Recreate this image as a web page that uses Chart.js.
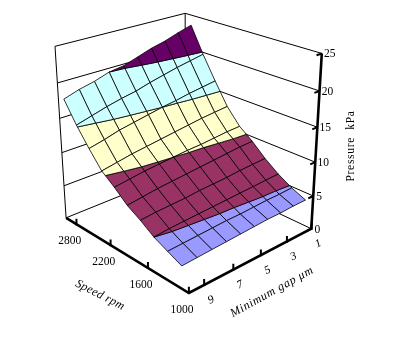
<!DOCTYPE html>
<html>
<head>
<meta charset="utf-8">
<style>
    html, body { margin: 0; padding: 0; background: #fff; }
    canvas { display: block; }
</style>
<script src="https://cdn.jsdelivr.net/npm/chart.js@4/dist/chart.umd.js"></script>
</head>
<body>
<canvas id="chart" width="399" height="354"></canvas>
<script>
// Values
const speeds = [1000, 1200, 1400, 1600, 1800, 2000, 2200, 2400, 2600, 2800];
const gaps = [1, 2, 3, 4, 5, 6, 7, 8, 9, 10];
const speedLabels = ['1000', '1600', '2200', '2800'];
const gapLabels = ['1', '3', '5', '7', '9'];
const pressureTicks = [0, 5, 10, 15, 20, 25];

// one row per speed, gap 1 to gap 10
const p1000 = [3.9, 3.9, 3.8, 3.8, 3.7, 3.6, 3.5, 3.4, 3.3, 3.2];
const p1200 = [4.8, 4.7, 4.7, 4.6, 4.5, 4.5, 4.4, 4.3, 4.2, 4.1];
const p1400 = [6.0, 5.9, 5.8, 5.7, 5.6, 5.5, 5.4, 5.3, 5.2, 5.0];
const p1600 = [7.5, 7.4, 7.3, 7.1, 7.0, 6.9, 6.7, 6.6, 6.5, 6.3];
const p1800 = [9.3, 9.2, 9.0, 8.8, 8.6, 8.4, 8.2, 8.0, 7.7, 7.4];
const p2000 = [10.8, 10.7, 10.5, 10.3, 10.2, 10.0, 9.8, 9.6, 9.3, 9.0];
const p2200 = [13.1, 12.9, 12.7, 12.4, 12.1, 11.8, 11.5, 11.2, 10.8, 10.4];
const p2400 = [16.3, 16.0, 15.7, 15.3, 15.0, 14.6, 14.2, 13.8, 13.2, 12.7];
const p2600 = [19.7, 19.3, 18.9, 18.4, 17.9, 17.3, 16.9, 16.4, 15.8, 15.2];
const p2800 = [23.5, 22.9, 22.2, 21.7, 21.0, 20.3, 20.0, 19.3, 18.8, 18.1];
const pressure = [p1000, p1200, p1400, p1600, p1800, p2000, p2200, p2400, p2600, p2800];

const BAND_COLORS = ['#9999FF', '#993366', '#FFFFCC', '#CCFFFF', '#660066'];

// Box corners on the page: [speed axis 0..1, gap axis 0..1, pressure 0..1, px, py]
const BOX = [
    [0, 1, 0, 189, 292],
    [1, 1, 0, 66, 219],
    [0, 0, 0, 311, 230],
    [1, 0, 0, 186, 168],
    [1, 1, 1, 55, 46],
    [0, 0, 1, 322, 53],
    [1, 0, 1, 185, 14],
];

const camera = fitCamera(BOX);

// least squares fit of the perspective matrix through the box corners
function fitCamera(pts) {
    const rows = [];
    pts.forEach(([X, Y, Z, x, y]) => {
        rows.push([X, Y, Z, 1, 0, 0, 0, 0, -x * X, -x * Y, -x * Z, x]);
        rows.push([0, 0, 0, 0, X, Y, Z, 1, -y * X, -y * Y, -y * Z, y]);
    });
    const n = 11;
    const m = [];
    for (let i = 0; i < n; i++) {
        m.push([]);
        for (let j = 0; j <= n; j++) {
            m[i].push(rows.reduce((s, r) => s + r[i] * r[j], 0));
        }
    }
    for (let c = 0; c < n; c++) {
        let best = c;
        for (let r = c + 1; r < n; r++) if (Math.abs(m[r][c]) > Math.abs(m[best][c])) best = r;
        [m[c], m[best]] = [m[best], m[c]];
        for (let r = 0; r < n; r++) {
            if (r === c) continue;
            const f = m[r][c] / m[c][c];
            for (let j = c; j <= n; j++) m[r][j] -= f * m[c][j];
        }
    }
    return m.map((row, i) => row[n] / row[i]);
}

function project(u, v, w) {
    const c = camera;
    const d = c[8] * u + c[9] * v + c[10] * w + 1;
    return {
        x: (c[0] * u + c[1] * v + c[2] * w + c[3]) / d,
        y: (c[4] * u + c[5] * v + c[6] * w + c[7]) / d,
    };
}

// series sit in the middle of their depth slot, categories on the ticks
const speedPos = i => (i + 0.5) / speeds.length;
const gapPos = j => j / (gaps.length - 1);
const zPos = p => p / 25;

// keep the part of a polygon between two pressures
function clipBand(poly, lo, hi) {
    const cut = (pts, keep, level) => {
        const out = [];
        pts.forEach((a, k) => {
            const b = pts[(k + 1) % pts.length];
            if (keep(a[2])) out.push(a);
            if (keep(a[2]) !== keep(b[2])) {
                const t = (level - a[2]) / (b[2] - a[2]);
                out.push([a[0] + t * (b[0] - a[0]), a[1] + t * (b[1] - a[1]), level]);
            }
        });
        return out;
    };
    return cut(cut(poly, z => z >= lo, lo), z => z <= hi, hi);
}

const marks = [];

function addLine(points, width) {
    marks.push({
        data: points,
        showLine: true,
        borderColor: '#000',
        borderWidth: width,
        pointRadius: 0,
        fill: false,
    });
}

// back walls
pressureTicks.forEach(p => {
    const w = zPos(p);
    addLine([project(1, 1, w), project(1, 0, w), project(0, 0, w)], 1);
});
addLine([project(1, 1, 0), project(1, 1, 1)], 1);
addLine([project(1, 0, 0), project(1, 0, 1)], 1);

// surface, back to front, one polygon per band per cell
for (let i = speeds.length - 2; i >= 0; i--) {
    for (let j = 0; j < gaps.length - 1; j++) {
        const cell = [
            [speedPos(i), gapPos(j), pressure[i][j]],
            [speedPos(i + 1), gapPos(j), pressure[i + 1][j]],
            [speedPos(i + 1), gapPos(j + 1), pressure[i + 1][j + 1]],
            [speedPos(i), gapPos(j + 1), pressure[i][j + 1]],
        ];
        BAND_COLORS.forEach((color, b) => {
            const piece = clipBand(cell, b * 5, (b + 1) * 5);
            if (piece.length < 3) return;
            const pts = piece.map(q => project(q[0], q[1], zPos(q[2])));
            pts.push(pts[0]);
            marks.push({
                data: pts,
                showLine: true,
                borderColor: '#000',
                borderWidth: 0.8,
                backgroundColor: color,
                pointRadius: 0,
                fill: 'shape',
            });
        });
    }
}

// thick front axes and their ticks
addLine([project(1, 1, 0), project(0, 1, 0), project(0, 0, 0), project(0, 0, 1)], 2.6);
speedLabels.forEach(s => {
    const u = speeds.indexOf(+s) / speeds.length;
    addLine([project(u, 1, 0), project(u, 1, 0.035)], 2);
});
gapLabels.forEach(g => {
    const v = gaps.indexOf(+g) / (gaps.length - 1);
    addLine([project(0, v, 0), project(0, v, 0.035)], 2);
});
pressureTicks.forEach(p => {
    addLine([project(0, 0, zPos(p)), project(0, 0.045, zPos(p))], 2);
});

const FONT = '"Liberation Serif", "Times New Roman", serif';

function drawText(ctx, chart, text, pos, dx, dy, rotation, font, spacing) {
    const x = chart.scales.x.getPixelForValue(pos.x) + dx;
    const y = chart.scales.y.getPixelForValue(pos.y) + dy;
    ctx.save();
    ctx.translate(x, y);
    ctx.rotate(rotation * Math.PI / 180);
    ctx.font = font;
    ctx.fillStyle = '#000';
    ctx.textAlign = 'center';
    ctx.textBaseline = 'middle';
    if (spacing) ctx.letterSpacing = spacing;
    ctx.fillText(text, 0, 0);
    ctx.restore();
}

const axisText = {
    id: 'axisText',
    afterDraw(chart) {
        const ctx = chart.ctx;
        const tickFont = '11.5px ' + FONT;
        const gapFont = 'italic 11.5px ' + FONT;
        speedLabels.forEach(s => {
            const u = speeds.indexOf(+s) / speeds.length;
            const a = project(u, 1, 0);
            drawText(ctx, chart, s, a, -7, 17, 0, tickFont);
        });
        gapLabels.forEach(g => {
            const v = gaps.indexOf(+g) / (gaps.length - 1);
            const a = project(0, v, 0);
            drawText(ctx, chart, g, a, 7, 15, -25, gapFont);
        });
        pressureTicks.forEach(p => {
            const a = project(0, 0, zPos(p));
            drawText(ctx, chart, String(p), a, p < 10 ? 6 : 8, 1, 0, tickFont);
        });
        drawText(ctx, chart, 'Speed rpm', { x: 100, y: 295 }, 0, 0, 27, 'italic 12px ' + FONT, '0.3px');
        drawText(ctx, chart, 'Minimum gap \u03BCm', { x: 272, y: 292 }, 0, 0, -29, 'italic 12px ' + FONT, '0.6px');
        drawText(ctx, chart, 'Pressure  kPa', { x: 351, y: 146 }, 0, 0, -90, '11.5px ' + FONT, '0.7px');
    },
};

new Chart(document.getElementById('chart'), {
    type: 'scatter',
    data: { datasets: marks.slice().reverse() },
    options: {
        responsive: false,
        animation: false,
        layout: { padding: 0 },
        plugins: { legend: { display: false }, tooltip: { enabled: false } },
        scales: {
            x: { type: 'linear', min: 0, max: 399, display: false },
            y: { type: 'linear', min: 0, max: 354, reverse: true, display: false },
        },
    },
    plugins: [axisText],
});
</script>
</body>
</html>
